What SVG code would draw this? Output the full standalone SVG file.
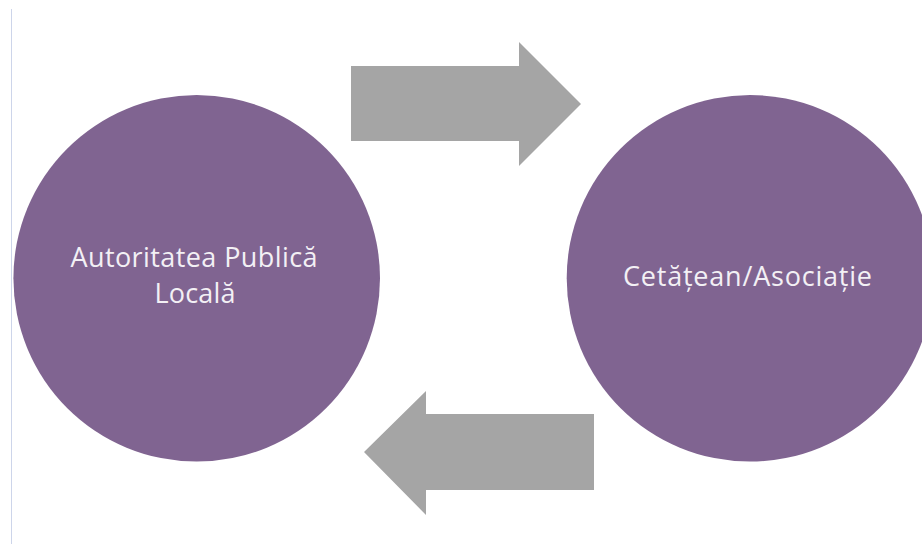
<svg xmlns="http://www.w3.org/2000/svg" width="922" height="544" viewBox="0 0 922 544">
<style>
.node{fill:#806491}
.arrow{fill:#a5a5a5}
.label{font-family:"Open Sans",Lato,"Liberation Sans",sans-serif;font-size:27px;fill:#f3f0f5;text-anchor:middle}
</style>
<rect x="0" y="0" width="922" height="544" fill="#ffffff"/>
<line x1="11.5" y1="9" x2="11.5" y2="544" stroke="#cdd5ea" stroke-width="1"/>
<g id="connectors">
<polygon class="arrow" points="351,66 519,66 519,42 581,104 519,166 519,141 351,141"/>
<polygon class="arrow" points="594,414 426,414 426,391 364,452 426,515 426,490 594,490"/>
</g>
<g id="node-autoritatea">
<circle class="node" cx="196.7" cy="278.3" r="183.3"/>
<text class="label" x="194" y="267" textLength="247" lengthAdjust="spacing">Autoritatea Publică</text>
<text class="label" x="195" y="303" textLength="81" lengthAdjust="spacing">Locală</text>
</g>
<g id="node-cetatean">
<circle class="node" cx="750" cy="278.3" r="183.3"/>
<text class="label" x="747.5" y="286" textLength="249" lengthAdjust="spacing">Cetățean/Asociație</text>
</g>
</svg>
